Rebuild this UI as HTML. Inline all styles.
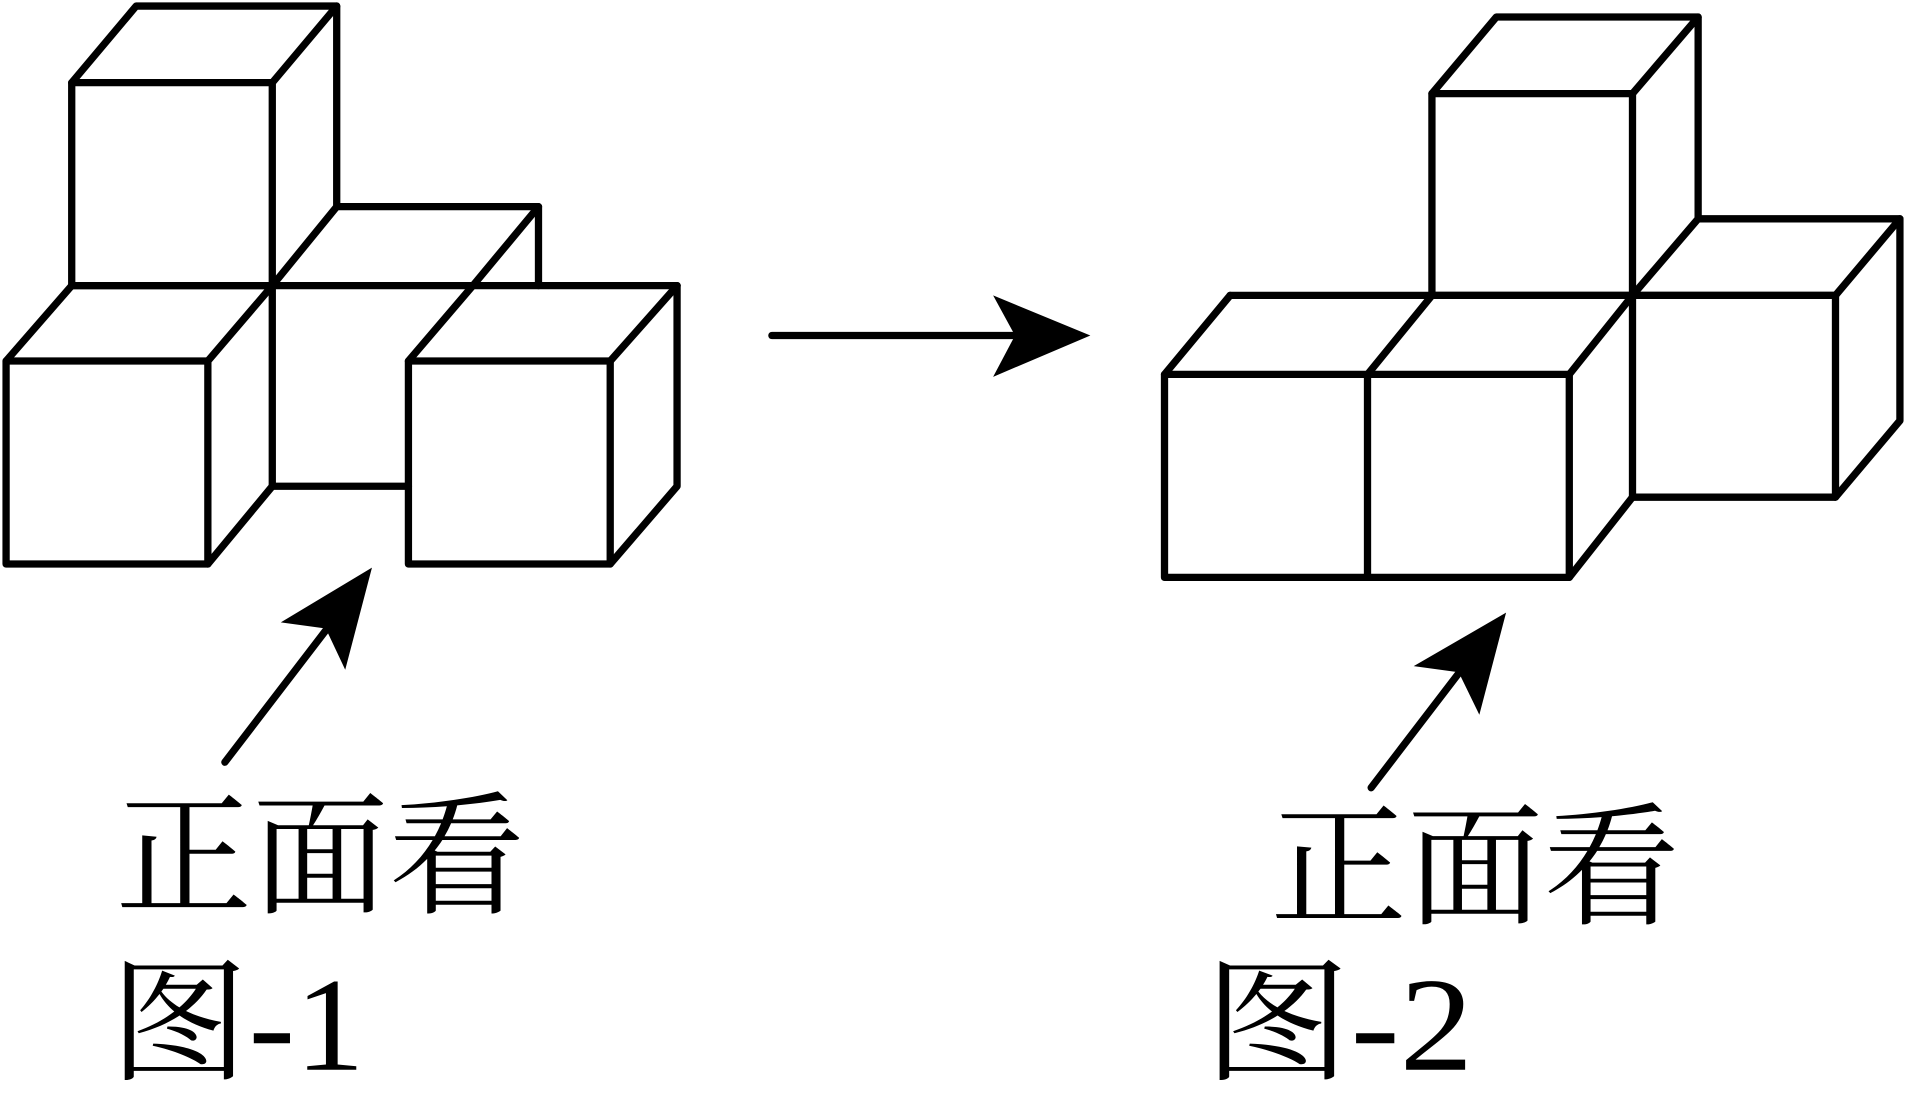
<!DOCTYPE html>
<html><head><meta charset="utf-8"><style>html,body{margin:0;padding:0;background:#fff}svg{display:block}</style></head><body>
<svg width="1906" height="1113" viewBox="0 0 1568 915.6" preserveAspectRatio="none" xmlns="http://www.w3.org/2000/svg">
<g stroke="#000" stroke-width="6" fill="none" stroke-linecap="round" stroke-linejoin="round">
<!-- Figure 1 -->
<rect x="59" y="68" width="165" height="167"/>
<polyline points="59,68 112,5 277,5 224,68"/>
<polyline points="277,5 277,170 224,235"/>
<polyline points="277,170 443,170 443,235"/>
<line x1="443" y1="170" x2="389" y2="235"/>
<line x1="59" y1="235" x2="557" y2="235"/>
<rect x="5" y="297" width="166" height="167"/>
<line x1="5" y1="297" x2="59" y2="235"/>
<line x1="171" y1="297" x2="224" y2="235"/>
<line x1="171" y1="464" x2="224" y2="400"/>
<polyline points="224,235 224,400 336,400"/>
<rect x="336" y="297" width="166" height="167"/>
<line x1="336" y1="297" x2="389" y2="235"/>
<line x1="502" y1="297" x2="557" y2="235"/>
<polyline points="557,235 557,400 502,464"/>
<line x1="185" y1="627" x2="270" y2="516"/>
<line x1="635" y1="276" x2="835" y2="276"/>
<!-- Figure 2 -->
<rect x="1178" y="77" width="165" height="166"/>
<polyline points="1178,77 1231,14 1397,14 1343,77"/>
<polyline points="1397,14 1397,180 1343,243"/>
<polyline points="1397,180 1563,180 1510,243"/>
<rect x="1343" y="243" width="167" height="166"/>
<polyline points="1563,180 1563,346 1510,409"/>
<line x1="1012" y1="243" x2="1510" y2="243"/>
<rect x="958" y="308" width="333" height="167"/>
<line x1="1125" y1="308" x2="1125" y2="475"/>
<line x1="958" y1="308" x2="1012" y2="243"/>
<line x1="1125" y1="308" x2="1178" y2="243"/>
<line x1="1291" y1="308" x2="1343" y2="243"/>
<line x1="1343" y1="409" x2="1291" y2="475"/>
<line x1="1128" y1="648" x2="1203" y2="550"/>
</g>
<g fill="#000">
<polygon points="306,467 231,512 268,517 284,551"/>
<polygon points="897,276 817,243 835,276 817,310"/>
<polygon points="1239,504 1163,548 1200,553 1217,588"/>
</g>
<g font-family="'Liberation Serif','Noto Serif CJK SC',serif" font-size="110" fill="#000">
<text x="95" y="743" textLength="337" lengthAdjust="spacingAndGlyphs">正面看</text>
<text x="90" y="880" textLength="210" lengthAdjust="spacingAndGlyphs">图-1</text>
<text x="1045" y="752" textLength="337" lengthAdjust="spacingAndGlyphs">正面看</text>
<text x="990" y="880" textLength="222" lengthAdjust="spacingAndGlyphs">图-2</text>
</g>
</svg>
</body></html>
